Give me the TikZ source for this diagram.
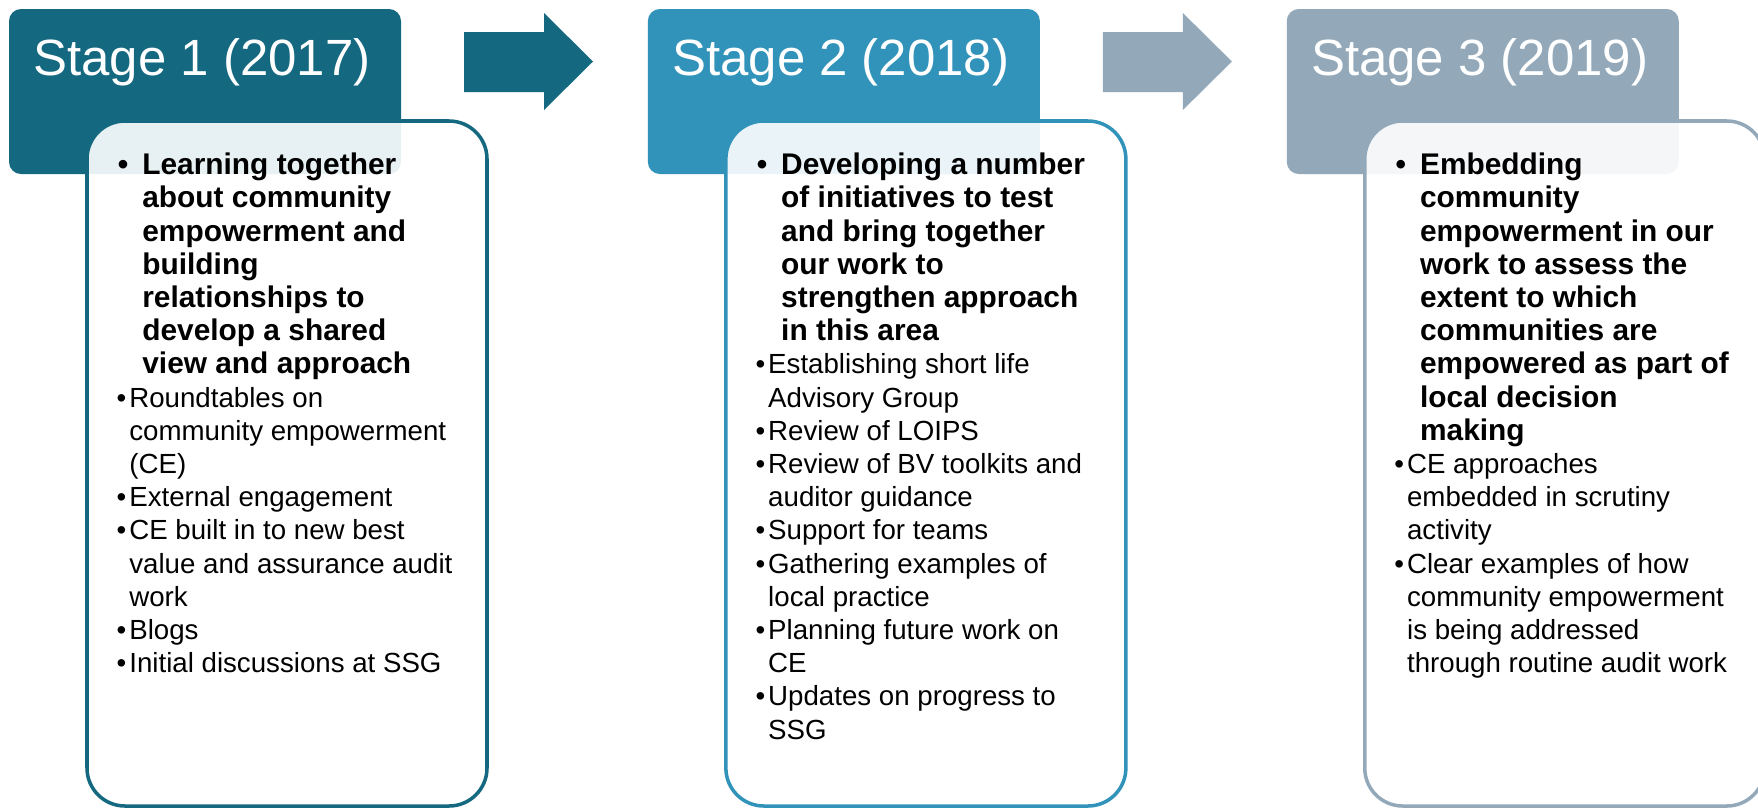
\documentclass[tikz,border=0pt]{standalone}
\usepackage{fontspec}
\setmainfont{Liberation Sans}
\definecolor{stageone}{HTML}{14687F}
\definecolor{stagetwo}{HTML}{3193BA}
\definecolor{stagethree}{HTML}{93A9B9}
\tikzset{headbox/.style={rounded corners=0.24cm}, listbox/.style={line width=2pt, rounded corners=0.76cm, fill=white, fill opacity=0.9},
  stagetitle/.style={anchor=base west, inner sep=0pt, text=white, font=\fontsize{29}{33}\selectfont},
  listtext/.style={anchor=north west, inner sep=0pt, align=left, font=\fontsize{15.75}{18.9}\selectfont}}
\newcommand{\keyitem}[1]{\hspace*{0.26cm}{\bfseries\fontsize{17}{18.9}\selectfont\llap{•\hspace{0.28cm}}#1}}
\newcommand{\keymore}[1]{\hspace*{0.26cm}{\bfseries\fontsize{17}{18.9}\selectfont #1}}
\newcommand{\listitem}{\llap{•\hspace{0.06cm}}}

\begin{document}
\begin{tikzpicture}[x=0.02cm, y=-0.02cm]
  \path[use as bounding box, fill=white] (0,0) rectangle (1758,809);
  \begin{scope}
   \fill[headbox, stageone] (9,9) rectangle (401,174);
   \fill[stageone] (464,32) -- (544,32) -- (544,13) -- (593,61.5) -- (544,110) -- (544,92) -- (464,92) -- cycle;
   \draw[listbox, draw=stageone] (87,121) rectangle (487,806);
   \node[stagetitle] (title1) at (33,75) {Stage 1 (2017)};
   \node[listtext] (list1) at (129,152.6) {\keyitem{Learning together}\\ \keymore{about community}\\
     \keymore{empowerment and}\\ \keymore{building}\\ \keymore{relationships to}\\
     \keymore{develop a shared}\\ \keymore{view and approach}\\
     \listitem Roundtables on\\ community empowerment\\ (CE)\\
     \listitem External engagement\\
     \listitem CE built in to new best\\ value and assurance audit\\ work\\
     \listitem Blogs\\
     \listitem Initial discussions at SSG};
  \end{scope}
  \begin{scope}[xshift=12.78cm]
   \fill[headbox, stagetwo] (9,9) rectangle (401,174);
   \fill[stagethree] (464,32) -- (544,32) -- (544,13) -- (593,61.5) -- (544,110) -- (544,92) -- (464,92) -- cycle;
   \draw[listbox, draw=stagetwo] (87,121) rectangle (487,806);
   \node[stagetitle] (title2) at (33,75) {Stage 2 (2018)};
   \node[listtext] (list2) at (129,152.6) {\keyitem{Developing a number}\\ \keymore{of initiatives to test}\\
     \keymore{and bring together}\\ \keymore{our work to}\\ \keymore{strengthen approach}\\
     \keymore{in this area}\\
     \listitem Establishing short life\\ Advisory Group\\
     \listitem Review of LOIPS\\
     \listitem Review of BV toolkits and\\ auditor guidance\\
     \listitem Support for teams\\
     \listitem Gathering examples of\\ local practice\\
     \listitem Planning future work on\\ CE\\
     \listitem Updates on progress to\\ SSG};
  \end{scope}
  \begin{scope}[xshift=25.56cm]
   \fill[headbox, stagethree] (9,9) rectangle (401,174);
   \draw[listbox, draw=stagethree] (87,121) rectangle (487,806);
   \node[stagetitle] (title3) at (33,75) {Stage 3 (2019)};
   \node[listtext] (list3) at (129,152.6) {\keyitem{Embedding}\\ \keymore{community}\\
     \keymore{empowerment in our}\\ \keymore{work to assess the}\\ \keymore{extent to which}\\
     \keymore{communities are}\\ \keymore{empowered as part of}\\ \keymore{local decision}\\
     \keymore{making}\\
     \listitem CE approaches\\ embedded in scrutiny\\ activity\\
     \listitem Clear examples of how\\ community empowerment\\ is being addressed\\
     through routine audit work};
  \end{scope}
 \end{tikzpicture}
\end{document}
